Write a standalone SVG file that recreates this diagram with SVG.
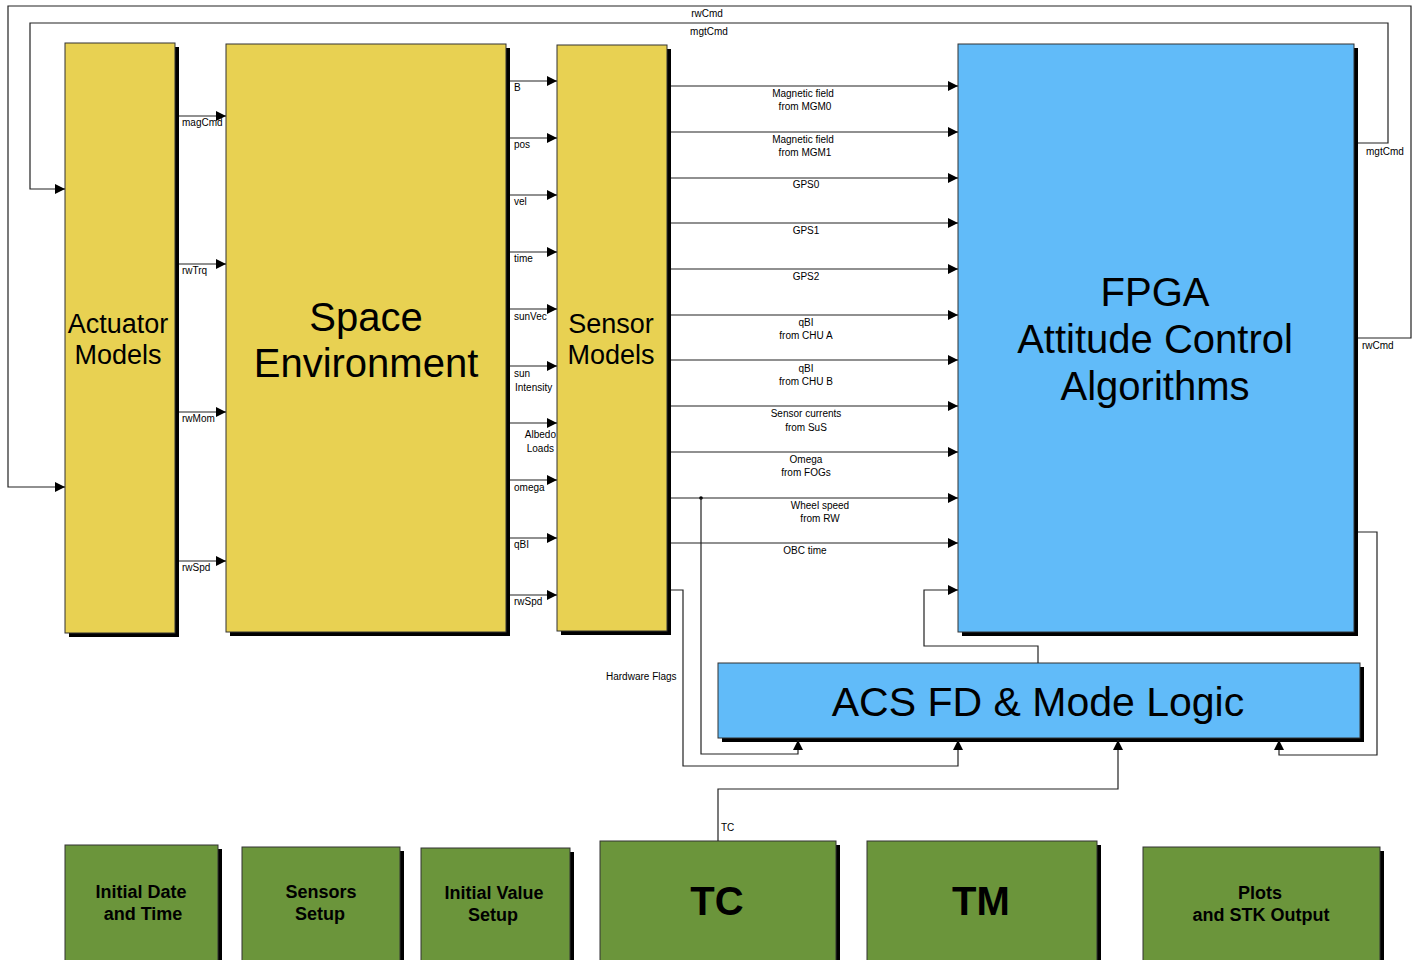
<svg xmlns="http://www.w3.org/2000/svg" width="1414" height="960" viewBox="0 0 1414 960">
<defs>
<marker id="ar" markerUnits="userSpaceOnUse" markerWidth="12" markerHeight="10" refX="10" refY="5" orient="auto">
<path d="M0,0 L10,5 L0,10 Z" fill="#000"/>
</marker>
</defs>
<style>
.c{fill:none;stroke:#222;stroke-width:1.2}
.ca{fill:none;stroke:#222;stroke-width:1.2;marker-end:url(#ar)}
.sh{fill:#000}
.y{fill:#E8D152;stroke:#333;stroke-width:1}
.b{fill:#61BBF9;stroke:#333;stroke-width:1}
.g{fill:#6B953B;stroke:#333;stroke-width:1}
.s{font-family:"Liberation Sans",Arial,sans-serif;font-size:10px;fill:#000}
.m{text-anchor:middle}
.big{font-family:"Liberation Sans",Arial,sans-serif;fill:#000;text-anchor:middle}
.gb{font-family:"Liberation Sans",Arial,sans-serif;font-weight:bold;fill:#000;text-anchor:middle}
</style>
<rect width="1414" height="960" fill="#fff"/>

<g id="actuator">
<rect class="sh" x="69" y="47" width="110" height="590"/>
<rect class="y" x="65" y="43" width="110" height="590"/>
<text class="big" font-size="27" x="118" y="333">Actuator</text>
<text class="big" font-size="27" x="118" y="364">Models</text>
</g>
<g id="space">
<rect class="sh" x="230" y="48" width="280" height="588"/>
<rect class="y" x="226" y="44" width="280" height="588"/>
<text class="big" font-size="40" x="366" y="331">Space</text>
<text class="big" font-size="40" x="366" y="377">Environment</text>
</g>
<g id="sensor">
<rect class="sh" x="561" y="49" width="110" height="586"/>
<rect class="y" x="557" y="45" width="110" height="586"/>
<text class="big" font-size="27" x="611" y="333">Sensor</text>
<text class="big" font-size="27" x="611" y="364">Models</text>
</g>
<g id="fpga">
<rect class="sh" x="962" y="48" width="396" height="588"/>
<rect class="b" x="958" y="44" width="396" height="588"/>
<text class="big" font-size="40" x="1155" y="306">FPGA</text>
<text class="big" font-size="40" x="1155" y="353">Attitude Control</text>
<text class="big" font-size="40" x="1155" y="400">Algorithms</text>
</g>
<g id="acs">
<rect class="sh" x="722" y="667" width="642" height="75"/>
<rect class="b" x="718" y="663" width="642" height="75"/>
<text class="big" font-size="41" x="1038" y="716">ACS FD &amp; Mode Logic</text>
</g>

<g id="initdate">
<rect class="sh" x="69" y="849" width="153" height="120"/>
<rect class="g" x="65" y="845" width="153" height="120"/>
<text class="gb" font-size="18" x="141" y="898">Initial Date</text>
<text class="gb" font-size="18" x="143" y="920">and Time</text>
</g>
<g id="sensorssetup">
<rect class="sh" x="246" y="851" width="158" height="120"/>
<rect class="g" x="242" y="847" width="158" height="120"/>
<text class="gb" font-size="18" x="321" y="898">Sensors</text>
<text class="gb" font-size="18" x="320" y="920">Setup</text>
</g>
<g id="initvalue">
<rect class="sh" x="425" y="852" width="149" height="120"/>
<rect class="g" x="421" y="848" width="149" height="120"/>
<text class="gb" font-size="18" x="494" y="899">Initial Value</text>
<text class="gb" font-size="18" x="493" y="921">Setup</text>
</g>
<g id="tc">
<rect class="sh" x="604" y="845" width="236" height="120"/>
<rect class="g" x="600" y="841" width="236" height="120"/>
<text class="gb" font-size="40" x="717" y="915">TC</text>
</g>
<g id="tm">
<rect class="sh" x="871" y="845" width="230" height="120"/>
<rect class="g" x="867" y="841" width="230" height="120"/>
<text class="gb" font-size="40" x="981" y="915">TM</text>
</g>
<g id="plots">
<rect class="sh" x="1147" y="851" width="237" height="120"/>
<rect class="g" x="1143" y="847" width="237" height="120"/>
<text class="gb" font-size="18" x="1260" y="899">Plots</text>
<text class="gb" font-size="18" x="1261" y="921">and STK Output</text>
</g>

<g id="connectors">
<path class="ca" d="M1358,338 H1411 V6 H8 V487 H65"/>
<text class="s m" x="707" y="17">rwCmd</text>
<text class="s" x="1362" y="349">rwCmd</text>
<path class="ca" d="M1358,143 H1388 V23 H30 V189 H65"/>
<text class="s m" x="709" y="35">mgtCmd</text>
<text class="s" x="1366" y="155">mgtCmd</text>

<path class="ca" d="M179,116 H226"/>
<text class="s" x="182" y="126">magCmd</text>
<path class="ca" d="M179,264 H226"/>
<text class="s" x="182" y="274">rwTrq</text>
<path class="ca" d="M179,412 H226"/>
<text class="s" x="182" y="422">rwMom</text>
<path class="ca" d="M179,561 H226"/>
<text class="s" x="182" y="571">rwSpd</text>

<path class="ca" d="M510,81 H557"/>
<text class="s" x="514" y="91">B</text>
<path class="ca" d="M510,138 H557"/>
<text class="s" x="514" y="148">pos</text>
<path class="ca" d="M510,195 H557"/>
<text class="s" x="514" y="205">vel</text>
<path class="ca" d="M510,252 H557"/>
<text class="s" x="514" y="262">time</text>
<path class="ca" d="M510,309 H557"/>
<text class="s" x="514" y="320">sunVec</text>
<path class="ca" d="M510,366 H557"/>
<text class="s" x="514" y="377">sun</text>
<text class="s" x="515" y="391">Intensity</text>
<path class="ca" d="M510,423 H557"/>
<text class="s" x="556" y="438" text-anchor="end">Albedo</text>
<text class="s" x="554" y="452" text-anchor="end">Loads</text>
<path class="ca" d="M510,480 H557"/>
<text class="s" x="514" y="491">omega</text>
<path class="ca" d="M510,538 H557"/>
<text class="s" x="514" y="548">qBI</text>
<path class="ca" d="M510,595 H557"/>
<text class="s" x="514" y="605">rwSpd</text>

<path class="ca" d="M671,86 H958"/>
<text class="s m" x="803" y="97">Magnetic field</text>
<text class="s m" x="805" y="110">from MGM0</text>
<path class="ca" d="M671,132 H958"/>
<text class="s m" x="803" y="143">Magnetic field</text>
<text class="s m" x="805" y="156">from MGM1</text>
<path class="ca" d="M671,178 H958"/>
<text class="s m" x="806" y="188">GPS0</text>
<path class="ca" d="M671,223 H958"/>
<text class="s m" x="806" y="234">GPS1</text>
<path class="ca" d="M671,269 H958"/>
<text class="s m" x="806" y="280">GPS2</text>
<path class="ca" d="M671,315 H958"/>
<text class="s m" x="806" y="326">qBI</text>
<text class="s m" x="806" y="339">from CHU A</text>
<path class="ca" d="M671,360 H958"/>
<text class="s m" x="806" y="372">qBI</text>
<text class="s m" x="806" y="385">from CHU B</text>
<path class="ca" d="M671,406 H958"/>
<text class="s m" x="806" y="417">Sensor currents</text>
<text class="s m" x="806" y="431">from SuS</text>
<path class="ca" d="M671,452 H958"/>
<text class="s m" x="806" y="463">Omega</text>
<text class="s m" x="806" y="476">from FOGs</text>
<path class="ca" d="M671,498 H958"/>
<text class="s m" x="820" y="509">Wheel speed</text>
<text class="s m" x="820" y="522">from RW</text>
<path class="ca" d="M671,543 H958"/>
<text class="s m" x="805" y="554">OBC time</text>

<path class="ca" d="M1038,663 V646 H924 V590 H958"/>
<circle cx="701" cy="498" r="1.8" fill="#000"/>
<path class="ca" d="M701,498 V754 H798 V740"/>
<path class="ca" d="M671,590 H683 V766 H958 V740"/>
<text class="s" x="606" y="680">Hardware Flags</text>
<path class="ca" d="M1358,532 H1377 V755 H1279 V740"/>
<path class="ca" d="M718,841 V789 H1118 V740"/>
<text class="s" x="721" y="831">TC</text>
</g>
</svg>
